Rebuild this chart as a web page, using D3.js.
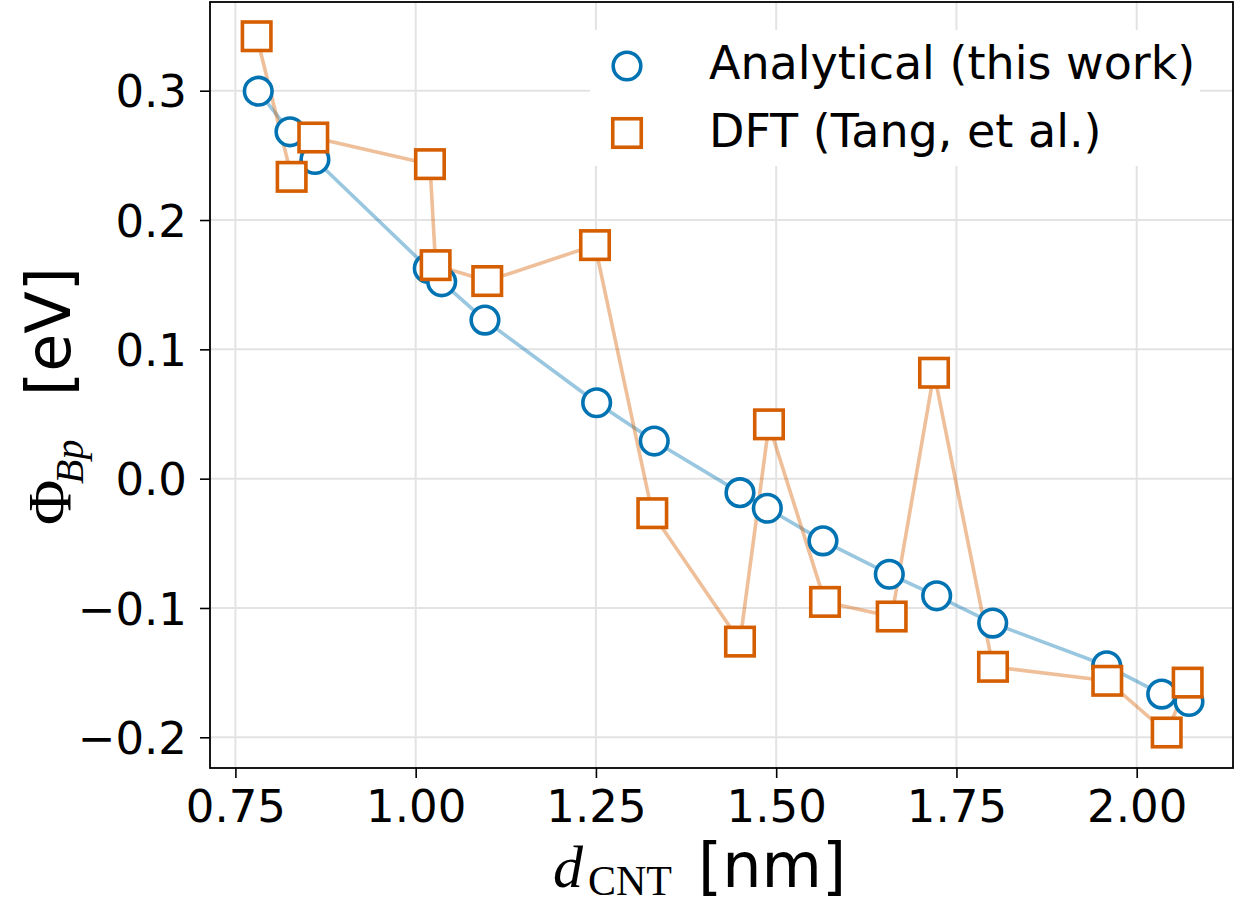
<!DOCTYPE html>
<html>
<head>
<meta charset="utf-8">
<script src="https://cdn.jsdelivr.net/npm/d3@7"></script>
<style>
  html, body { margin: 0; padding: 0; background: #ffffff; }
  svg { display: block; }
</style>
</head>
<body>
<div id="chart"></div>
<script>
// ---- data ----
const dAnalytical = [0.7817, 0.8257, 0.8603, 1.0175, 1.0361, 1.0961, 1.2510, 1.3309, 1.4498, 1.4877, 1.5649, 1.6569, 1.7226, 1.8003, 1.9584, 2.0347, 2.0725];
const phiAnalytical = [0.2996, 0.2682, 0.2468, 0.1626, 0.1522, 0.1226, 0.0587, 0.0291, -0.0108, -0.0229, -0.0481, -0.0739, -0.0906, -0.1117, -0.1447, -0.1666, -0.1723];
const dDFT = [0.7795, 0.8280, 0.8580, 1.0198, 1.0277, 1.0993, 1.2487, 1.3282, 1.4498, 1.4900, 1.5677, 1.6602, 1.7189, 1.8007, 1.9592, 2.0416, 2.0707];
const phiDFT = [0.3421, 0.2334, 0.2638, 0.2432, 0.1651, 0.1528, 0.1806, -0.0267, -0.1260, 0.0420, -0.0953, -0.1066, 0.0819, -0.1455, -0.1563, -0.1963, -0.1577];
const xTicks = [0.75, 1.00, 1.25, 1.50, 1.75, 2.00];
const yTicks = [-0.2, -0.1, 0.0, 0.1, 0.2, 0.3];
const seriesNames = ["Analytical (this work)", "DFT (Tang, et al.)"];
const xDomain = [0.71477, 2.13356];
const yDomain = [-0.22374, 0.36859];

// ---- layout ----
const W = 1239, H = 905;
const mLeft = 210, mRight = 1233, mTop = 2, mBottom = 768;
const blue = "#0173b2", orange = "#d55e00";
const tickFont = "45px 'DejaVu Sans'";
const legendFont = "46px 'DejaVu Sans'";
const labelFont = "62px 'DejaVu Sans'";
const serif = "'Liberation Serif', 'DejaVu Serif', serif";

const svg = d3.select("#chart").append("svg").attr("width", W).attr("height", H);
const x = d3.scaleLinear().domain(xDomain).range([mLeft, mRight]);
const y = d3.scaleLinear().domain(yDomain).range([mBottom, mTop]);

// grid
const grid = svg.append("g").attr("stroke", "#e3e3e3").attr("stroke-width", 2);
grid.selectAll("line.gx").data(xTicks).join("line").attr("class", "gx")
  .attr("x1", d => x(d)).attr("x2", d => x(d)).attr("y1", mTop).attr("y2", mBottom);
grid.selectAll("line.gy").data(yTicks).join("line").attr("class", "gy")
  .attr("y1", d => y(d)).attr("y2", d => y(d)).attr("x1", mLeft).attr("x2", mRight);

// lines
const pairs = (xs, ys) => xs.map((v, i) => [v, ys[i]]);
const lineGen = d3.line().x(d => x(d[0])).y(d => y(d[1]));
svg.append("path").datum(pairs(dAnalytical, phiAnalytical))
  .attr("d", lineGen).attr("fill", "none").attr("stroke", blue)
  .attr("stroke-opacity", 0.4).attr("stroke-width", 3.6).attr("stroke-linejoin", "round");
svg.append("path").datum(pairs(dDFT, phiDFT))
  .attr("d", lineGen).attr("fill", "none").attr("stroke", orange)
  .attr("stroke-opacity", 0.4).attr("stroke-width", 3.6).attr("stroke-linejoin", "round");

// markers
const R = 13.8, S = 28.5, SW = 3.6;
svg.append("g").selectAll("circle").data(pairs(dAnalytical, phiAnalytical)).join("circle")
  .attr("cx", d => x(d[0])).attr("cy", d => y(d[1])).attr("r", R)
  .attr("fill", "#fff").attr("stroke", blue).attr("stroke-width", SW);
svg.append("g").selectAll("rect").data(pairs(dDFT, phiDFT)).join("rect")
  .attr("x", d => x(d[0]) - S / 2).attr("y", d => y(d[1]) - S / 2)
  .attr("width", S).attr("height", S)
  .attr("fill", "#fff").attr("stroke", orange).attr("stroke-width", SW);

// axes
const xAxis = d3.axisBottom(x).tickValues(xTicks).tickFormat(d3.format(".2f")).tickSizeInner(10).tickSizeOuter(0).tickPadding(12);
const yAxis = d3.axisLeft(y).tickValues(yTicks).tickFormat(d => d3.format(".1f")(d).replace("-", "\u2212")).tickSizeInner(10).tickSizeOuter(0).tickPadding(13);
const gx = svg.append("g").attr("transform", `translate(0,${mBottom})`).call(xAxis);
const gy = svg.append("g").attr("transform", `translate(${mLeft},0)`).call(yAxis);
[gx, gy].forEach(g => {
  g.select(".domain").remove();
  g.selectAll(".tick line").attr("stroke", "#000").attr("stroke-width", 1.6);
  g.selectAll(".tick text").attr("fill", "#000").style("font", tickFont);
});
gx.selectAll(".tick text").attr("dy", "0.72em");
gy.selectAll(".tick text").attr("dy", "0.36em");

// frame
svg.append("rect").attr("x", mLeft).attr("y", mTop).attr("width", mRight - mLeft).attr("height", mBottom - mTop)
  .attr("fill", "none").attr("stroke", "#000").attr("stroke-width", 1.8);

// legend
const lg = svg.append("g");
lg.append("rect").attr("x", 590).attr("y", 30).attr("width", 610).attr("height", 136).attr("fill", "#fff");
lg.append("circle").attr("cx", 627).attr("cy", 66).attr("r", R)
  .attr("fill", "#fff").attr("stroke", blue).attr("stroke-width", SW);
lg.append("rect").attr("x", 627 - S / 2).attr("y", 133 - S / 2).attr("width", S).attr("height", S)
  .attr("fill", "#fff").attr("stroke", orange).attr("stroke-width", SW);
lg.selectAll("text").data(seriesNames).join("text")
  .attr("x", 709).attr("y", (d, i) => i === 0 ? 79 : 147)
  .style("font", legendFont).attr("fill", "#000").text(d => d);

// x label: d_CNT [nm]
const xl = svg.append("g");
xl.append("text").attr("x", 553).attr("y", 887).style("font", `italic 60px ${serif}`).attr("fill", "#000").text("d");
xl.append("text").attr("x", 588).attr("y", 895).style("font", `42px ${serif}`).attr("fill", "#000").text("CNT");
xl.append("text").attr("x", 698).attr("y", 887).style("font", labelFont).attr("fill", "#000").text("[nm]");

// y label: Phi_Bp [eV]  (rotated frame: u = -screenY, v = screenX - 70)
const yl = svg.append("g").attr("transform", "translate(70,0) rotate(-90)");
yl.append("text").attr("x", -525).attr("y", 0).style("font", `62px ${serif}`).attr("fill", "#000").text("\u03A6");
yl.append("text").attr("x", -484).attr("y", 13).style("font", `italic 40px ${serif}`).attr("fill", "#000").text("Bp");
yl.append("text").attr("x", -396).attr("y", 0).style("font", labelFont).attr("fill", "#000").text("[eV]");
</script>
</body>
</html>
